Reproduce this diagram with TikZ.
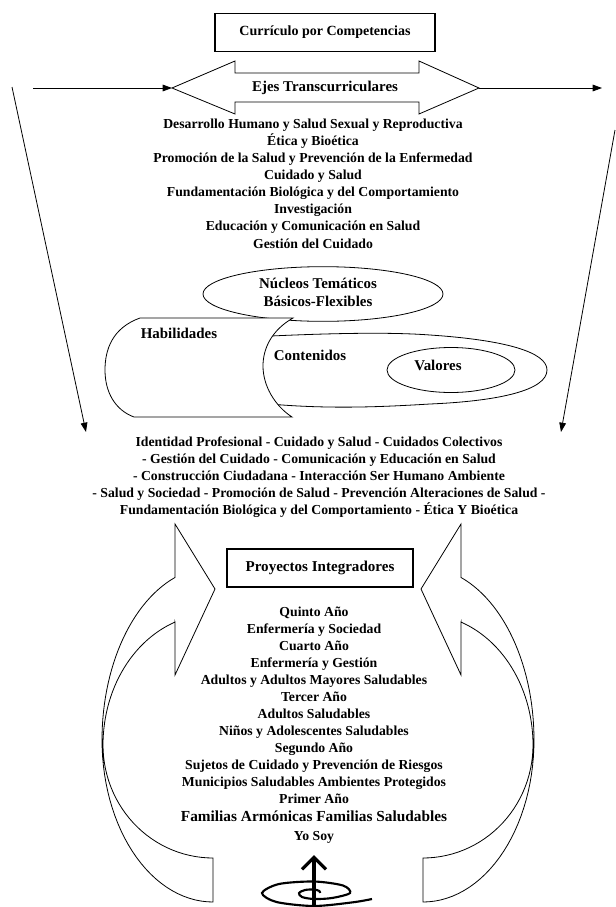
\documentclass[tikz,border=0pt]{standalone}
\usepackage{fontspec}
\setmainfont{Liberation Serif}
\usetikzlibrary{arrows.meta,shapes.geometric}
\newcommand\mycurvedarrowshape{%
  \draw[ln, fill=white] (175,577) -- (175,524) -- (215,589) -- (175,675) -- (175,622)
    -- plot[domain=110.2:180, samples=30, variable=\a] ({213+110*cos(\a)}, {745-131*sin(\a)})
    -- plot[domain=180:270, samples=30, variable=\a] ({213+110*cos(\a)}, {745-113*sin(\a)})
    -- (213,902)
    -- plot[domain=270:180, samples=30, variable=\a] ({213+111*cos(\a)}, {740-162*sin(\a)})
    -- plot[domain=180:110, samples=30, variable=\a] ({213+111*cos(\a)}, {740-173*sin(\a)})
    -- cycle;}
\begin{document}
\begin{tikzpicture}[x=0.75pt,y=-0.75pt,
  lbl/.style={font=\fontsize{11.2}{13}\selectfont\bfseries, inner sep=0pt, anchor=base},
  blk/.style={font=\fontsize{10.3}{12.75}\selectfont\bfseries, inner sep=0pt, anchor=base},
  big/.style={font=\fontsize{11.5}{13}\selectfont\bfseries, inner sep=0pt, anchor=base},
  ln/.style={line width=0.6pt},
  boxst/.style={draw, line width=0.8pt, fill=white, inner sep=0pt},
  arr/.style={line width=0.6pt, -{Triangle[length=7pt,width=5pt]}},
  oval/.style={draw, ellipse, line width=0.6pt, fill=white, inner sep=0pt}
]
\useasboundingbox (0,0) rectangle (616,907);

% title box
\node[boxst, minimum width=165pt, minimum height=29pt, font=\fontsize{10.5}{12}\selectfont\bfseries] (curr) at (325,32.5) {Currículo por Competencias};

% double arrow
\draw[ln, fill=white] (172,88) -- (235,61) -- (235,73) -- (419,73) -- (419,61) -- (479,88)
  -- (419,114) -- (419,102) -- (235,102) -- (235,114) -- cycle;
\coordinate (ejesL) at (172,88);
\coordinate (ejesR) at (479,88);
\node[lbl] (ejes) at (325,91.5) {Ejes Transcurriculares};
\coordinate (inL) at (33,88);
\coordinate (outR) at (602,88);
\draw[arr] (inL) -- (ejesL);
\draw[arr] (ejesR) -- (outR);

% diagonal arrows
\coordinate (dLs) at (12,87);
\coordinate (dLe) at (86,432);
\coordinate (dRs) at (615,130);
\coordinate (dRe) at (561,432);
\draw[arr] (dLs) -- (dLe);
\draw[arr] (dRs) -- (dRe);

% axes list
\foreach \t [count=\i from 0] in {Desarrollo Humano y Salud Sexual y Reproductiva, Ética y Bioética,
  Promoción de la Salud y Prevención de la Enfermedad, Cuidado y Salud,
  Fundamentación Biológica y del Comportamiento, Investigación,
  Educación y Comunicación en Salud, Gestión del Cuidado}
  \node[blk] (eje\i) at (313,{128.3+17.1*\i}) {\t};

% nucleos / habilidades / contenidos / valores
\node[oval, minimum width=180pt, minimum height=41pt] (nuc) at (323,294) {};
\draw[ln, fill=white] (250,337) .. controls (330,333) and (390,332) .. (430,335)
  .. controls (505,340) and (547,352) .. (547,370)
  .. controls (547,390) and (500,401) .. (430,404)
  .. controls (380,407) and (320,410) .. (250,402) -- cycle;
\node[oval, minimum width=96pt, minimum height=33.75pt] (val) at (451,370) {};
\draw[ln, fill=white] (140,318) -- (293,318)
  .. controls (272,330) and (263,348) .. (263,366)
  .. controls (263,386) and (275,406) .. (292,417) -- (134,417)
  .. controls (115,410) and (105,392) .. (105,370)
  .. controls (105,350) and (112,328) .. (140,318) -- cycle;
\node[lbl] (nuc1) at (318,288.5) {Núcleos Temáticos};
\node[lbl] (nuc2) at (318,306.5) {Básicos-Flexibles};
\node[lbl] (hab) at (179,338.5) {Habilidades};
\node[lbl] (cont) at (310,360.5) {Contenidos};
\node[lbl] (valt) at (438,370.5) {Valores};

% areas list
\foreach \t [count=\i from 0] in {Identidad Profesional - Cuidado y Salud - Cuidados Colectivos,
  - Gestión del Cuidado - Comunicación y Educación en Salud,
  - Construcción Ciudadana - Interacción Ser Humano Ambiente,
  - Salud y Sociedad - Promoción de Salud - Prevención Alteraciones de Salud -,
  Fundamentación Biológica y del Comportamiento - Ética Y Bioética}
  \node[blk] (area\i) at (319,{446.3+17*\i}) {\t};

% curved arrows
\mycurvedarrowshape
\begin{scope}[shift={(636,0)}, xscale=-1]
  \mycurvedarrowshape
\end{scope}

% proyectos box
\node[boxst, minimum width=139.5pt, minimum height=28.5pt, font=\fontsize{11.3}{13}\selectfont\bfseries] (proy) at (320,568) {Proyectos Integradores};

% years list
\foreach \t [count=\i from 0] in {Quinto Año, Enfermería y Sociedad, Cuarto Año, Enfermería y Gestión,
  Adultos y Adultos Mayores Saludables, Tercer Año, Adultos Saludables,
  Niños y Adolescentes Saludables, Segundo Año, Sujetos de Cuidado y Prevención de Riesgos,
  Municipios Saludables Ambientes Protegidos, Primer Año}
  \node[blk] (anio\i) at (314,{616.3+17*\i}) {\t};
\node[big] (fam) at (314,821.5) {Familias Armónicas Familias Saludables};
\node[blk] (yo) at (314,840.3) {Yo Soy};

% spiral and stem
\draw[line width=1.6pt] plot[smooth] coordinates {(320,893) (319.3,891) (314,889.5) (305,890)
  (299,893) (302,897) (314,899) (332,898) (350,893) (343,885.5) (314,881.5)
  (279,884) (262,893) (276.5,902) (314,906) (352.9,902.3) (372,899)};
\coordinate (stemB) at (314,907);
\coordinate (stemT) at (314,855);
\draw[line width=2.4pt, -{Straight Barb[length=9pt,width=18pt]}] (stemB) -- (stemT);
\end{tikzpicture}
\end{document}
